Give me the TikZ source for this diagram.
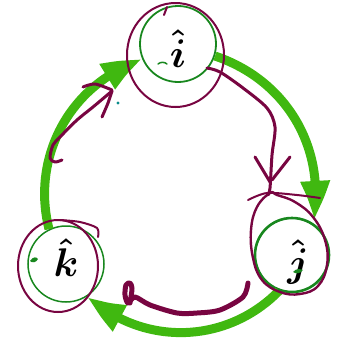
\RequirePackage{fix-cm}
\documentclass[tikz,border=0pt]{standalone}
\usepackage{amsmath}
\usetikzlibrary{arrows.meta,bending}
\definecolor{bandgreen}{RGB}{64,184,16}
\definecolor{ringgreen}{RGB}{24,135,30}
\definecolor{scribred}{RGB}{120,5,65}
\definecolor{dotteal}{RGB}{10,140,140}
\begin{document}
\begin{tikzpicture}[x=1pt,y=1pt,
  ring/.style={circle, draw=ringgreen, line width=1.8pt, inner sep=0pt,
    font=\fontsize{40}{48}\selectfont},
  band/.style={draw=bandgreen, line width=9pt, -{Triangle[length=40pt,width=27pt,bend]}},
  scrib/.style={draw=scribred, line width=2pt, line cap=round, line join=round}]
\useasboundingbox (0,0) rectangle (347,341);

% green rings with their labels
\node[ring, minimum size=76pt] (i) at (178,297)
  {\raisebox{-5pt}[\height][\depth]{$\boldsymbol{\hat{i}}$}};
\node[ring, minimum size=74pt, line width=2.6pt] (j) at (292,86)
  {\hspace{12pt}\raisebox{-7pt}[\height][\depth]{$\boldsymbol{\hat{j}}$}};
\node[ring, minimum size=76pt, line width=1.5pt] (k) at (66,77)
  {\raisebox{6pt}[\height][\depth]{$\boldsymbol{\hat{k}}$}\hspace{14pt}};

% thick green cycle arrows
\draw[band] (k.116) to[bend left=43] (i.204);
\draw[band, shorten >=3pt] (i.-18) to[bend left=41] (j.57);
\draw[band] (j.250) to[bend left=44] (k.-56);

% maroon hand-drawn circles
\draw[scrib] (175.5,286) ellipse [x radius=48.5, y radius=52];
\draw[scrib] (164,326) -- (167,334);
\draw[scrib, line width=2.4pt] plot[smooth cycle, tension=0.7] coordinates
  {(270,148) (257,134) (251,111) (253,83) (262,61) (280,49) (300,47) (318,55)
   (327,76) (325,101) (313,124) (295,139) (277,146)};
\draw[scrib] plot[smooth] coordinates {(248,141) (267,148) (297,146) (320,143)};
\draw[scrib] (58,75) ellipse [x radius=40, y radius=46];
\draw[scrib] plot[smooth] coordinates {(60,121) (80,119) (97,113) (98,104)};

% maroon arrows
\draw[scrib, line width=3pt] plot[smooth] coordinates
  {(62,181) (55,179) (50,183) (53,196) (60,204) (77,221) (93,234) (112,250)};
\draw[scrib, line width=3pt] plot[smooth] coordinates {(83,254) (95,257) (112,251)};
\draw[scrib, line width=3pt] plot[smooth] coordinates {(112,250) (108,238) (102,224)};

\draw[scrib, line width=3pt] plot[smooth] coordinates
  {(207,273) (220,269) (243,253) (267,233) (275,214) (272,186) (270,153) (268,146)};
\draw[scrib, line width=3pt] (255,184) -- (270,159);
\draw[scrib, line width=3pt] (290,184) -- (272,161);

\draw[scrib, line width=5pt] plot[smooth] coordinates
  {(248,58) (243,44) (220,31) (197,28) (177,28) (150,36) (135,44) (128,38)
   (125,46) (126,56) (130,58) (132,53) (131,44) (130,38)};

% small marks
\fill[dotteal] (118,238) circle (1.6);
\draw[ringgreen, line width=1.5pt, line cap=round] (158,277) to[bend left=40] (167,277);
\fill[ringgreen] (30,80) .. controls (33,85) and (37,84) .. (38,82) .. controls (36,78) and (32,78) .. (30,80);
\fill[ringgreen] (293,69) .. controls (296,73) and (301,72) .. (303,71) .. controls (300,67) and (296,67) .. (293,69);
\end{tikzpicture}
\end{document}
